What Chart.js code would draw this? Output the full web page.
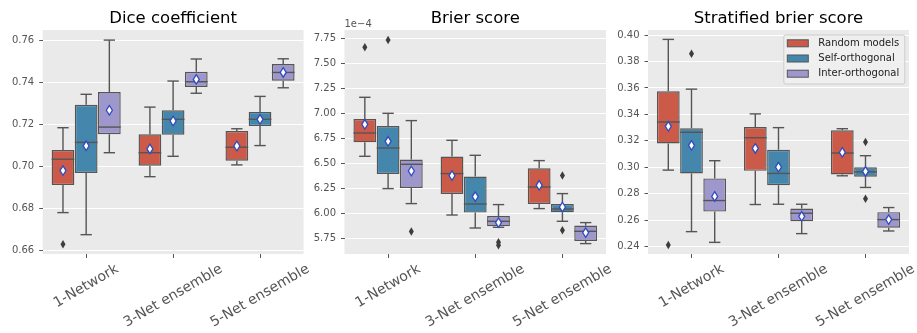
<!DOCTYPE html>
<html><head><meta charset="utf-8">
<script src="https://cdn.jsdelivr.net/npm/chart.js@4/dist/chart.umd.min.js"></script>
<style>
html,body{margin:0;padding:0;background:#fff;}
#wrap{position:relative;width:917px;height:333px;overflow:hidden;}
#wrap canvas{position:absolute;left:0;top:0;}
</style></head><body>
<div id="wrap">
<canvas id="c1" width="917" height="333"></canvas>
<canvas id="c2" width="917" height="333"></canvas>
<canvas id="c3" width="917" height="333"></canvas>
</div>
<script>
// ---- data ----
const categories = ['1-Network', '3-Net ensemble', '5-Net ensemble'];
const seriesNames = ['Random models', 'Self-orthogonal', 'Inter-orthogonal'];
// each row: [whiskerLow, q1, median, q3, whiskerHigh, mean]
const diceRandom = [[0.6779,0.6910,0.7033,0.7077,0.7183,0.6979],[0.6950,0.7002,0.7064,0.7152,0.7281,0.7082],[0.7006,0.7026,0.7090,0.7167,0.7178,0.7096]];
const diceSelf   = [[0.6674,0.6968,0.7113,0.7292,0.7342,0.7097],[0.7047,0.7150,0.7223,0.7266,0.7405,0.7215],[0.7098,0.7191,0.7223,0.7258,0.7332,0.7223]];
const diceInter  = [[0.7064,0.7152,0.7186,0.7353,0.7600,0.7266],[0.7347,0.7377,0.7402,0.7449,0.7510,0.7413],[0.7373,0.7407,0.7446,0.7486,0.7511,0.7446]];
const diceOutRandom = [[0.6628],[],[]];
const diceOutSelf = [[],[],[]];
const diceOutInter = [[],[],[]];
const diceTicks = [0.66,0.68,0.70,0.72,0.74,0.76];

const brierRandom = [[6.570e-4,6.710e-4,6.803e-4,6.943e-4,7.160e-4,6.890e-4],[5.983e-4,6.193e-4,6.397e-4,6.567e-4,6.730e-4,6.377e-4],[6.047e-4,6.093e-4,6.263e-4,6.450e-4,6.527e-4,6.280e-4]];
const brierSelf   = [[6.247e-4,6.393e-4,6.653e-4,6.873e-4,7.000e-4,6.720e-4],[5.853e-4,6.007e-4,6.093e-4,6.367e-4,6.580e-4,6.167e-4],[5.920e-4,6.010e-4,6.043e-4,6.093e-4,6.197e-4,6.063e-4]];
const brierInter  = [[6.097e-4,6.253e-4,6.490e-4,6.537e-4,6.927e-4,6.423e-4],[5.860e-4,5.870e-4,5.920e-4,5.973e-4,6.087e-4,5.907e-4],[5.697e-4,5.723e-4,5.820e-4,5.877e-4,5.907e-4,5.807e-4]];
const brierOutRandom = [[7.660e-4],[],[]];
const brierOutSelf = [[7.733e-4],[],[6.377e-4,5.830e-4]];
const brierOutInter = [[5.817e-4],[5.710e-4,5.680e-4],[]];
const brierTicks = [5.75e-4,6.00e-4,6.25e-4,6.50e-4,6.75e-4,7.00e-4,7.25e-4,7.50e-4,7.75e-4];

const stratRandom = [[0.2979,0.3181,0.3343,0.3575,0.3967,0.3310],[0.2719,0.2974,0.3224,0.3305,0.3404,0.3143],[0.2936,0.2946,0.3108,0.3280,0.3292,0.3113]];
const stratSelf   = [[0.2514,0.2954,0.3265,0.3295,0.3591,0.3166],[0.2721,0.2865,0.2954,0.3133,0.3300,0.3002],[0.2848,0.2929,0.2966,0.3000,0.3088,0.2969]];
const stratInter  = [[0.2433,0.2666,0.2749,0.2916,0.3050,0.2780],[0.2499,0.2592,0.2653,0.2688,0.2721,0.2630],[0.2519,0.2544,0.2605,0.2661,0.2696,0.2605]];
const stratOutRandom = [[0.2413],[],[]];
const stratOutSelf = [[0.3858],[],[0.3191,0.2762]];
const stratOutInter = [[],[],[]];
const stratTicks = [0.24,0.26,0.28,0.30,0.32,0.34,0.36,0.38,0.40];

// ---- styles ----
const fillColors = ['#CC5A49', '#4586AC', '#9E97CC'];
const lineColor = '#555555';
const meanEdge = '#2f4bbf';
const flierColor = '#3d3d3d';
const FONT = '"DejaVu Sans", sans-serif';

const cfgs = {
  c1: {title:'Dice coefficient', stats:[diceRandom,diceSelf,diceInter], outs:[diceOutRandom,diceOutSelf,diceOutInter], ticks:diceTicks,
       min:0.6582, max:0.7648, left:42.7, right:303.5, fmt:v=>v.toFixed(2), offsetLabel:null, legend:false},
  c2: {title:'Brier score', stats:[brierRandom,brierSelf,brierInter], outs:[brierOutRandom,brierOutSelf,brierOutInter], ticks:brierTicks,
       min:5.593e-4, max:7.833e-4, left:344.5, right:606, fmt:v=>(v/1e-4).toFixed(2), offsetLabel:'1e\u22124', legend:false},
  c3: {title:'Stratified brier score', stats:[stratRandom,stratSelf,stratInter], outs:[stratOutRandom,stratOutSelf,stratOutInter], ticks:stratTicks,
       min:0.2345, max:0.4038, left:648, right:909, fmt:v=>v.toFixed(2), offsetLabel:null, legend:true}
};

function diamond(ctx, x, y, w, h) {
  ctx.beginPath();
  ctx.moveTo(x, y - h/2); ctx.lineTo(x + w/2, y); ctx.lineTo(x, y + h/2); ctx.lineTo(x - w/2, y); ctx.closePath();
}
function seg(ctx, x1, y1, x2, y2) { ctx.beginPath(); ctx.moveTo(x1, y1); ctx.lineTo(x2, y2); ctx.stroke(); }

const boxPlugin = {
  id: 'boxExtras',
  beforeDraw(chart) {
    const a = chart.chartArea, ctx = chart.ctx;
    ctx.save(); ctx.fillStyle = '#EAEAEA';
    ctx.fillRect(a.left, a.top, a.right - a.left, a.bottom - a.top);
    ctx.restore();
  },
  afterDatasetsDraw(chart) {
    const cfg = cfgs[chart.canvas.id];
    const ctx = chart.ctx, ys = chart.scales.y;
    const py = v => ys.getPixelForValue(v);
    ctx.save();
    cfg.stats.forEach((rows, s) => {
      const meta = chart.getDatasetMeta(s);
      rows.forEach((r, i) => {
        const bar = meta.data[i];
        const x = bar.x, w = bar.width;
        ctx.strokeStyle = lineColor; ctx.lineWidth = 1.4;
        seg(ctx, x, py(r[3]), x, py(r[4]));
        seg(ctx, x, py(r[1]), x, py(r[0]));
        seg(ctx, x - w/4, py(r[4]), x + w/4, py(r[4]));
        seg(ctx, x - w/4, py(r[0]), x + w/4, py(r[0]));
        seg(ctx, x - w/2, py(r[2]), x + w/2, py(r[2]));
        // outliers
        cfg.outs[s][i].forEach(v => {
          diamond(ctx, x, py(v), 5, 8.5);
          ctx.fillStyle = flierColor; ctx.fill();
        });
        // mean
        diamond(ctx, x, py(r[5]), 6, 9.5);
        ctx.fillStyle = '#ffffff'; ctx.fill();
        ctx.strokeStyle = meanEdge; ctx.lineWidth = 1.3; ctx.stroke();
      });
    });
    ctx.restore();
  },
  afterDraw(chart) {
    const cfg = cfgs[chart.canvas.id];
    const ctx = chart.ctx, a = chart.chartArea;
    ctx.save();
    // title
    ctx.font = '16.5px ' + FONT; ctx.fillStyle = '#000'; ctx.textAlign = 'center'; ctx.textBaseline = 'alphabetic';
    ctx.fillText(cfg.title, (a.left + a.right) / 2, 23.3);
    // offset label
    if (cfg.offsetLabel) {
      ctx.font = '10px ' + FONT; ctx.fillStyle = '#555'; ctx.textAlign = 'left';
      ctx.fillText(cfg.offsetLabel, a.left, 26.8);
    }
    // rotated x labels (centered at tick like matplotlib)
    const xs = chart.scales.x;
    ctx.font = '14px ' + FONT; ctx.fillStyle = '#555';
    const ang = Math.PI / 6;
    chart.data.labels.forEach((lab, i) => {
      const px = xs.getPixelForTick(i);
      const L = ctx.measureText(lab).width, h = 14 * 1.17;
      const bh = L * Math.sin(ang) + h * Math.cos(ang);
      const cy = a.bottom + 7 + bh / 2;
      ctx.save(); ctx.translate(px, cy); ctx.rotate(-ang);
      ctx.textAlign = 'center'; ctx.textBaseline = 'middle';
      ctx.fillText(lab, 0, 0);
      ctx.restore();
    });
    // legend
    if (cfg.legend) {
      const lw = 121, lh = 49;
      const lx = a.right - 4.7 - lw, ly = a.top + 4.5;
      ctx.fillStyle = 'rgba(240,240,240,0.85)'; ctx.strokeStyle = '#cccccc'; ctx.lineWidth = 1;
      ctx.beginPath();
      if (ctx.roundRect) ctx.roundRect(lx + 0.5, ly + 0.5, lw, lh, 2); else ctx.rect(lx + 0.5, ly + 0.5, lw, lh);
      ctx.fill(); ctx.stroke();
      ctx.font = '10px ' + FONT; ctx.textAlign = 'left'; ctx.textBaseline = 'middle';
      chart.data.datasets.forEach((ds, k) => {
        const cy = ly + 8.8 + k * 15.2;
        ctx.fillStyle = ds.backgroundColor; ctx.fillRect(lx + 4, cy - 3.5, 21, 7);
        ctx.strokeStyle = lineColor; ctx.lineWidth = 1; ctx.strokeRect(lx + 4, cy - 3.5, 21, 7);
        ctx.fillStyle = '#222'; ctx.fillText(ds.label, lx + 35, cy);
      });
    }
    ctx.restore();
  }
};

function makeChart(id) {
  const cfg = cfgs[id];
  return new Chart(document.getElementById(id), {
    type: 'bar',
    data: {
      labels: categories,
      datasets: seriesNames.map((name, s) => ({
        label: name,
        data: cfg.stats[s].map(r => [r[1], r[3]]),
        backgroundColor: fillColors[s],
        borderColor: lineColor,
        borderWidth: 1.4,
        borderSkipped: false,
        categoryPercentage: 0.8,
        barPercentage: 0.98
      }))
    },
    options: {
      responsive: false, animation: false, devicePixelRatio: 1,
      layout: { padding: { left: cfg.left - 43, right: 917 - cfg.right, top: 30, bottom: 0 } },
      plugins: { legend: { display: false }, tooltip: { enabled: false }, title: { display: false } },
      scales: {
        x: {
          offset: true,
          grid: { display: true, drawOnChartArea: false, offset: false, tickColor: '#555', tickLength: 4, drawTicks: true },
          border: { display: false },
          ticks: { display: false },
          afterFit: s => { s.height = 79; }
        },
        y: {
          min: cfg.min, max: cfg.max,
          grid: { color: '#ffffff', lineWidth: 1, tickColor: '#555', tickLength: 3.5 },
          border: { display: false },
          ticks: { font: { family: FONT, size: 10 }, color: '#555', padding: 5, callback: v => cfg.fmt(v) },
          afterBuildTicks: s => { s.ticks = cfg.ticks.map(v => ({ value: v })); },
          afterFit: s => { s.width = 43; }
        }
      }
    },
    plugins: [boxPlugin]
  });
}
makeChart('c1'); makeChart('c2'); makeChart('c3');
</script>
</body></html>
